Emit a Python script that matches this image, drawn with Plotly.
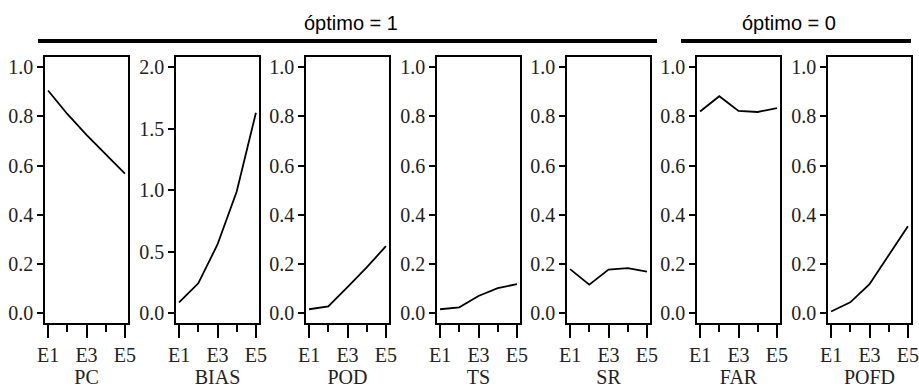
import plotly.graph_objects as go

W, H = 919, 390

categories = ["E1", "E2", "E3", "E4", "E5"]
x_pos = [1, 2, 3, 4, 5]
metrics = ["PC", "BIAS", "POD", "TS", "SR", "FAR", "POFD"]

pc = [0.905, 0.81, 0.725, 0.645, 0.568]
bias = [0.09, 0.245, 0.56, 0.99, 1.63]
pod = [0.017, 0.029, 0.107, 0.187, 0.273]
ts = [0.017, 0.025, 0.071, 0.103, 0.119]
sr = [0.180, 0.117, 0.178, 0.184, 0.170]
far = [0.820, 0.882, 0.822, 0.818, 0.834]
pofd = [0.008, 0.045, 0.119, 0.235, 0.354]

series = [pc, bias, pod, ts, sr, far, pofd]

unit_ticks = [0.0, 0.2, 0.4, 0.6, 0.8, 1.0]
bias_ticks = [0.0, 0.5, 1.0, 1.5, 2.0]

group_labels = ["óptimo = 1", "óptimo = 0"]

panel_left = [45, 176, 306, 437, 567, 697, 828]
panel_w = 83
box_top, box_bot = 57.3, 323.3

serif = "Liberation Serif"
sans = "Liberation Sans"

fig = go.Figure()
layout = dict(
    width=W, height=H,
    margin=dict(l=0, r=0, t=0, b=0),
    paper_bgcolor="white", plot_bgcolor="white",
    showlegend=False,
    font=dict(family=serif, size=20, color="black"),
)

for i, (name, vals) in enumerate(zip(metrics, series)):
    idx = "" if i == 0 else str(i + 1)
    xa = "x" + idx
    ya = "y" + idx
    fig.add_trace(go.Scatter(
        x=x_pos, y=vals, mode="lines",
        line=dict(color="black", width=1.8),
        xaxis=xa, yaxis=ya, hoverinfo="skip",
    ))
    x0 = panel_left[i] / W
    x1 = (panel_left[i] + panel_w) / W
    if name == "BIAS":
        yr = [-0.08, 2.08]
        yt = bias_ticks
    else:
        yr = [-0.04, 1.04]
        yt = unit_ticks
    layout["xaxis" + idx] = dict(
        domain=[x0, x1], anchor=ya, range=[0.84, 5.16],
        tickvals=[1, 3, 5], ticktext=[categories[0], categories[2], categories[4]],
        ticks="outside", ticklen=13, tickwidth=1.6, tickcolor="black",
        minor=dict(tickvals=[2, 4], ticks="outside", ticklen=7, tickwidth=1.6, tickcolor="black"),
        showline=True, linecolor="black", linewidth=1.6, mirror=True,
        showgrid=False, zeroline=False, fixedrange=True,
        ticklabeloverflow="allow",
        tickfont=dict(family=serif, size=20, color="#222"),
        title=dict(text=name, font=dict(family=serif, size=20, color="#222"), standoff=0),
        automargin=False,
    )
    layout["yaxis" + idx] = dict(
        domain=[(H - box_bot) / H, (H - box_top) / H], anchor=xa, range=yr,
        tickvals=yt, tickformat=".1f",
        ticks="outside", ticklen=6, tickwidth=1.6, tickcolor="black",
        showline=True, linecolor="black", linewidth=1.6, mirror=True,
        showgrid=False, zeroline=False, fixedrange=True,
        ticklabeloverflow="allow",
        tickfont=dict(family=serif, size=20, color="#222"),
        automargin=False,
    )

fig.update_layout(**layout)

# group bars and labels
bars = [(38, 657), (681, 911)]
label_x = [351, 789]
for (bx0, bx1), lab, lx in zip(bars, group_labels, label_x):
    fig.add_shape(type="line", xref="paper", yref="paper",
                  x0=bx0 / W, x1=bx1 / W, y0=(H - 41) / H, y1=(H - 41) / H,
                  line=dict(color="black", width=4))
    fig.add_annotation(text=lab, xref="paper", yref="paper",
                       x=lx / W, y=(H - 23) / H, xanchor="center", yanchor="middle",
                       showarrow=False,
                       font=dict(family=sans, size=20, color="black"))

fig.write_html(
    "out.html",
    config={"displayModeBar": False},
    post_script="document.body.style.margin='0';document.body.style.overflow='hidden';",
)
